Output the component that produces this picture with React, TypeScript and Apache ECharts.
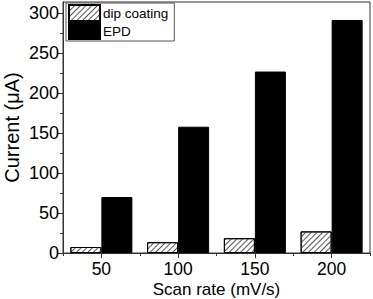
import React, { useEffect, useRef } from "react";
import * as echarts from "echarts";

const categories = ["50", "100", "150", "200"];
const dipCoating = [7.5, 13.5, 18.5, 27];
const epd = [70, 158, 227, 291.5];
const majorTicks = [0, 50, 100, 150, 200, 250, 300];
const minorTicks = [25, 75, 125, 175, 225, 275];

const FONT = "'Liberation Sans', Arial, sans-serif";
const LINE = "#333";

export default function App() {
  const ref = useRef<HTMLDivElement>(null);
  useEffect(() => {
    document.body.style.margin = "0";
    const chart = echarts.init(ref.current!, undefined, { renderer: "svg" });
    chart.setOption({
      animation: false,
      textStyle: { fontFamily: FONT },
      grid: {
        left: 63,
        top: 2,
        right: 3,
        bottom: 46,
        containLabel: false,
        outerBoundsMode: "none",
        show: true,
        borderColor: LINE,
        borderWidth: 1,
        backgroundColor: "transparent",
      },
      legend: {
        left: 66,
        top: 3,
        orient: "vertical",
        itemWidth: 31,
        itemHeight: 16,
        itemGap: 0,
        padding: [1, 6, 1, 2],
        borderColor: "#555",
        borderWidth: 1,
        textStyle: { fontFamily: FONT, fontSize: 13.5, color: "#000", padding: [0, 0, 0, -2] },
        data: [
          { name: "dip coating", icon: "rect" },
          { name: "EPD", icon: "rect" },
        ],
      },
      xAxis: [
        {
          type: "category",
          data: categories,
          position: "bottom",
          axisLine: { show: true, lineStyle: { color: LINE, width: 1 } },
          axisTick: { show: true, alignWithLabel: true, length: 5, lineStyle: { color: LINE } },
          axisLabel: { fontFamily: FONT, fontSize: 17.5, lineHeight: 16, color: "#000", margin: 8 },
          name: "Scan rate (mV/s)",
          nameLocation: "middle",
          nameGap: 28,
          nameMoveOverlap: false,
          nameTextStyle: { fontFamily: FONT, fontSize: 17, lineHeight: 16, color: "#000" },
          splitLine: { show: false },
        },
        {
          type: "category",
          data: categories,
          position: "bottom",
          axisLine: { show: false },
          axisTick: { show: true, length: 3, lineStyle: { color: LINE } },
          axisLabel: { show: false },
          splitLine: { show: false },
        },
      ],
      yAxis: [
        {
          type: "value",
          min: 0,
          max: 314,
          interval: 50,
          position: "left",
          axisLine: { show: true, lineStyle: { color: LINE, width: 1 } },
          axisTick: { show: true, length: 5, customValues: majorTicks, lineStyle: { color: LINE } },
          axisLabel: { fontFamily: FONT, fontSize: 18, color: "#000", margin: 4, customValues: majorTicks },
          splitLine: { show: false },
          name: "Current (μA)",
          nameLocation: "middle",
          nameGap: 41,
          nameMoveOverlap: false,
          nameTextStyle: { fontFamily: FONT, fontSize: 20, color: "#000" },
        },
        {
          type: "value",
          min: 0,
          max: 314,
          interval: 50,
          position: "left",
          axisLine: { show: false },
          axisTick: { show: true, length: 3, customValues: minorTicks, lineStyle: { color: LINE } },
          axisLabel: { show: false },
          splitLine: { show: false },
        },
      ],
      series: [
        {
          name: "dip coating",
          type: "bar",
          xAxisIndex: 0,
          yAxisIndex: 0,
          data: dipCoating,
          barWidth: 31,
          barGap: "0%",
          itemStyle: {
            color: "#fff",
            borderColor: "#000",
            borderWidth: 1,
            decal: {
              symbol: "rect",
              symbolSize: 1,
              dashArrayX: [[1, 0]],
              dashArrayY: [1, 2.5],
              rotation: -Math.PI / 4,
              color: "#555",
              backgroundColor: "#fff",
            },
          },
        },
        {
          name: "EPD",
          type: "bar",
          xAxisIndex: 0,
          yAxisIndex: 0,
          data: epd,
          barWidth: 31,
          barGap: "0%",
          itemStyle: { color: "#000", borderColor: "#000", borderWidth: 1 },
        },
      ],
    });
    return () => chart.dispose();
  }, []);
  return <div ref={ref} style={{ width: 373, height: 299 }} />;
}
